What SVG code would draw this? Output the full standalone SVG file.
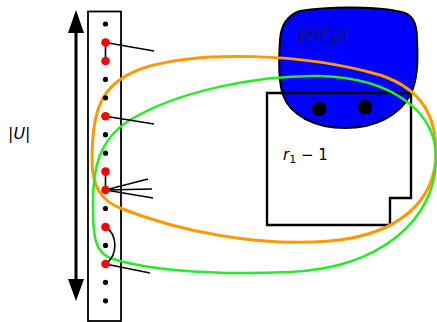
<svg xmlns="http://www.w3.org/2000/svg" width="437" height="322" viewBox="0 0 437 322">
<style>
.t{font-family:"DejaVu Sans",sans-serif;font-size:16px;fill:#000}
.rd{fill:#ff0000}
.bk{fill:#000}
.ln{stroke:#000;stroke-width:1.6;fill:none}
</style>
<rect width="437" height="322" fill="#fff"/>
<g id="arrow">
<line x1="76" y1="30" x2="76" y2="282" stroke="#000" stroke-width="3"/>
<polygon points="76,10 68,33 84,33" fill="#000"/>
<polygon points="76,301 68,279 84,279" fill="#000"/>
</g>
<g id="label-U"><text class="t" x="8" y="139">|<tspan font-style="italic">U</tspan>|</text></g>
<g id="column"><rect x="88" y="11.5" width="33" height="309.5" fill="#fff" stroke="#000" stroke-width="1.8"/></g>
<g id="blob">
<path d="M 300,11 C 330,6 380,6 405,13 C 414,17 417,25 417,40 C 418,60 418,80 410,95 C 400,115 375,128 345,128 C 315,128 290,115 283,95 C 278,80 279,55 280,40 C 281,25 288,15 300,11 Z" fill="#0000ff" stroke="#000" stroke-width="2"/>
<circle cx="319" cy="109" r="7.3" fill="#000"/>
<circle cx="365" cy="107" r="7.3" fill="#000"/>
<text class="t" x="298" y="40" style="fill:#1a1a4a">|<tspan font-style="italic">V</tspan>(<tspan font-style="italic">F</tspan><tspan font-size="11" dy="3">2</tspan><tspan dy="-3">)|</tspan></text>
</g>
<g id="region">
<path d="M 267,93 L 411,93 L 411,198 L 390,198 L 390,225 L 267,225 Z" fill="none" stroke="#000" stroke-width="2.4"/>
<text class="t" x="283" y="160" style="font-size:15px"><tspan font-style="italic">r</tspan><tspan font-size="11" dy="3">1</tspan><tspan dy="-3"> − 1</tspan></text>
</g>
<g id="connectors">
<path d="M 92,160 C 92,110 100,80 150,66 C 200,52 300,52 380,75 C 425,90 436,120 436,152 C 436,200 400,235 330,241 C 260,247 180,232 120,208 C 100,200 92,185 92,160 Z" fill="none" stroke="#ff9900" stroke-width="3"/>
<path d="M 93,210 C 92,170 98,140 130,120 C 180,90 260,75 320,76 C 390,78 436,110 436,158 C 436,220 380,268 290,272 C 200,276 140,268 110,258 C 95,252 93,235 93,210 Z" fill="none" stroke="#22ee22" stroke-width="2.5"/>
<line class="ln" x1="105.5" y1="42.5" x2="154" y2="51"/>
<line class="ln" x1="105.5" y1="42.5" x2="105.5" y2="61"/>
<line class="ln" x1="105.5" y1="116.3" x2="154" y2="124"/>
<line class="ln" x1="105.5" y1="171.6" x2="105.5" y2="190"/>
<line class="ln" x1="105.5" y1="190" x2="148" y2="179"/>
<line class="ln" x1="105.5" y1="190" x2="152" y2="189"/>
<line class="ln" x1="105.5" y1="190" x2="153" y2="198"/>
<path class="ln" d="M 105.5,227 C 118,235 118,255 105.5,264"/>
<line class="ln" x1="105.5" y1="264" x2="150" y2="273"/>
</g>
<g id="dots">
<circle class="bk" cx="105.5" cy="24" r="2.6"/>
<circle class="rd" cx="105.5" cy="42.5" r="4.3"/>
<circle class="rd" cx="105.5" cy="61" r="4.3"/>
<circle class="bk" cx="105.5" cy="79.4" r="2.6"/>
<circle class="bk" cx="105.5" cy="97.8" r="2.6"/>
<circle class="rd" cx="105.5" cy="116.3" r="4.3"/>
<circle class="bk" cx="105.5" cy="134.7" r="2.6"/>
<circle class="bk" cx="105.5" cy="153.2" r="2.6"/>
<circle class="rd" cx="105.5" cy="171.6" r="4.3"/>
<circle class="rd" cx="105.5" cy="190" r="4.3"/>
<circle class="bk" cx="105.5" cy="208.5" r="2.6"/>
<circle class="rd" cx="105.5" cy="227" r="4.3"/>
<circle class="bk" cx="105.5" cy="245.4" r="2.6"/>
<circle class="rd" cx="105.5" cy="264" r="4.3"/>
<circle class="bk" cx="105.5" cy="282.3" r="2.6"/>
<circle class="bk" cx="105.5" cy="300.8" r="2.6"/>
</g>
</svg>
